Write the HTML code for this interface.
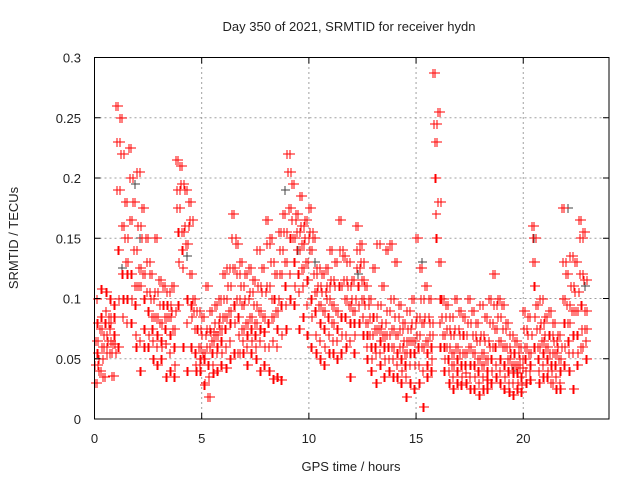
<!DOCTYPE html>
<html><head><meta charset="utf-8"><style>
body{margin:0;background:#fff;}
svg{display:block;font-family:"Liberation Sans",sans-serif;}
</style></head><body>
<svg id="chart" width="640" height="480">
<text x="349" y="31" font-size="13" text-anchor="middle" fill="#222">Day 350 of 2021, SRMTID for receiver hydn</text>
<text x="351" y="471" font-size="13" text-anchor="middle" fill="#222">GPS time / hours</text>
<text transform="translate(18,238) rotate(-90)" font-size="13" text-anchor="middle" fill="#222">SRMTID / TECUs</text>
<g id="grid"></g><g id="pts" shape-rendering="crispEdges"></g><g id="axes"></g>
</svg>
<script>
const xTicks=[0,5,10,15,20];
const yTicks=[0,0.05,0.1,0.15,0.2,0.25,0.3];
const yTickLabels=["0","0.05","0.1","0.15","0.2","0.25","0.3"];
const binHours=[0,0.2,0.4,0.6,0.8,1.0,1.2,1.4,1.6,1.8,2.0,2.2,2.4,2.6,2.8,3.0,3.2,3.4,3.6,3.8,4.0,4.2,4.4,4.6,4.8,5.0,5.2,5.4,5.6,5.8,6.0,6.2,6.4,6.6,6.8,7.0,7.2,7.4,7.6,7.8,8.0,8.2,8.4,8.6,8.8,9.0,9.2,9.4,9.6,9.8,10.0,10.2,10.4,10.6,10.8,11.0,11.2,11.4,11.6,11.8,12.0,12.2,12.4,12.6,12.8,13.0,13.2,13.4,13.6,13.8,14.0,14.2,14.4,14.6,14.8,15.0,15.2,15.4,15.6,15.8,16.0,16.2,16.4,16.6,16.8,17.0,17.2,17.4,17.6,17.8,18.0,18.2,18.4,18.6,18.8,19.0,19.2,19.4,19.6,19.8,20.0,20.2,20.4,20.6,20.8,21.0,21.2,21.4,21.6,21.8,22.0,22.2,22.4,22.6,22.8];
// SRMTID values in milli-TECU per bin
const srmtid=[
[30,45,65,80,100,55],[40,50,75,85,60,108],[35,60,70,80,90,105],[55,65,80,85,75,100],[36,55,62,70,85,95],
[260,230,190,140,100,60],[250,220,160,120,85,100],[180,150,130,100,80,120],[225,200,165,120,100,80],[180,140,110,95,70,60],
[205,160,125,110,65,40],[175,150,120,100,75,60],[150,130,105,90,70,60],[120,100,85,75,65,50],[150,105,85,70,60,45],
[115,95,80,65,60,50],[110,95,85,75,62,35],[105,95,85,70,55,40],[110,90,75,60,45,35],[215,190,175,155,130,95],
[210,195,155,140,125,60],[190,160,145,100,80,40],[180,165,120,95,85,60],[100,90,75,55,45,40],[90,75,60,50,45,40],
[85,70,55,50,30,28],[110,75,60,45,35,18],[90,72,65,55,45,38],[95,80,70,60,55,40],[100,85,75,65,55,45],
[120,100,85,75,60,42],[125,110,90,80,65,50],[170,150,125,95,80,55],[145,120,100,85,70,55],[130,110,95,75,65,55],
[120,100,80,70,60,45],[125,105,85,75,65,55],[115,95,80,70,60,50],[140,110,90,75,65,40],[125,105,85,72,60,45],
[165,145,110,80,60,40],[150,130,100,85,65,33],[120,100,90,75,60,35],[155,140,120,95,70,32],[170,155,130,110,95,75],
[220,205,175,150,120,100],[195,165,150,130,110,95],[170,155,140,120,105,75],[185,160,145,125,110,85],[165,150,130,115,95,70],
[175,155,140,100,85,60],[150,120,105,90,70,55],[125,110,95,80,65,50],[120,105,90,75,60,45],[125,110,100,85,70,55],
[140,115,95,80,65,55],[130,110,90,75,65,50],[165,140,110,85,70,55],[135,115,100,85,70,60],[130,110,95,80,65,35],
[115,100,90,80,70,55],[160,140,125,110,95,80],[145,130,115,100,85,70],[110,95,80,70,60,50],[100,85,70,60,50,40],
[125,85,75,60,55,30],[145,95,75,65,55,45],[110,80,70,60,50,35],[140,90,70,60,50,40],[145,100,75,60,50,35],
[130,85,70,55,45,35],[95,75,60,50,40,30],[80,65,55,45,35,18],[90,75,65,55,45,30],[100,80,65,55,45,25],
[150,85,70,60,45,30],[125,100,80,60,40,10],[110,85,65,55,45,35],[100,80,70,60,50,40],[287,245,230,200,170,150],
[255,180,130,100,80,60],[100,85,70,60,50,40],[95,75,60,50,40,30],[85,70,55,45,35,25],[100,75,60,50,40,30],
[90,70,55,45,35,28],[85,70,55,45,38,30],[100,80,60,45,35,25],[90,70,55,45,35,25],[80,65,50,40,30,20],
[95,70,55,45,35,25],[85,65,50,40,32,25],[100,80,60,50,40,30],[120,95,75,60,45,35],[100,85,65,50,40,30],
[95,75,60,45,35,25],[80,60,50,40,30,22],[70,55,45,38,30,20],[65,55,45,38,30,25],[60,50,42,35,28,22],
[90,75,60,50,40,30],[85,70,55,45,40,32],[160,150,130,110,85,60],[95,75,60,50,40,30],[100,80,65,55,45,35],
[85,70,60,50,40,35],[90,70,55,45,40,30],[80,65,55,45,35,25],[70,60,50,40,30,25],[175,130,100,80,60,45],
[120,95,80,65,55,40],[135,110,90,70,55,25],[130,105,90,70,55,45],[165,150,120,95,75,60],[155,115,90,75,65,50]
];
const greyHours=[0.3,0.7,1.3,1.9,2.1,4.3,8.9,9.5,10.3,12.3,15.3,19.5,20.5,22.1,22.9];
const greyValues=[40,75,125,195,150,135,190,140,130,120,130,40,150,175,110];

const X0=94.5,X1=609,Y0=419,Y1=57.5;
const xs=h=>X0+(h/24)*(X1-X0);
const ys=v=>Y0-(v/0.3)*(Y0-Y1);
const NS="http://www.w3.org/2000/svg";
function mk(tag,attrs,parent){const e=document.createElementNS(NS,tag);for(const k in attrs)e.setAttribute(k,attrs[k]);parent.appendChild(e);return e;}
const grid=document.getElementById('grid'),pts=document.getElementById('pts'),axes=document.getElementById('axes');
xTicks.forEach((t,i)=>{
  const x=xs(t);
  if(t>0){const g=mk('line',{x1:x,x2:x,y1:Y0,y2:Y1,stroke:'#a0a0a0','stroke-dasharray':'2,3'},grid);
  
  }
  const a=mk('line',{x1:x,x2:x,y1:Y0,y2:Y0-6,stroke:'#000'},axes);
  
  
  const b=mk('line',{x1:x,x2:x,y1:Y1,y2:Y1+6,stroke:'#000'},axes);
  
  
  const l=mk('text',{x:x,y:443,'font-size':13,'text-anchor':'middle',fill:'#222'},axes);l.textContent=String(t);
  
  
});
yTicks.forEach((t,i)=>{
  const y=ys(t);
  if(t>0&&t<0.3){const g=mk('line',{x1:X0,x2:X1,y1:y,y2:y,stroke:'#a0a0a0','stroke-dasharray':'2,3'},grid);
  
  }
  const a=mk('line',{x1:X0,x2:X0+6,y1:y,y2:y,stroke:'#000'},axes);
  
  
  const b=mk('line',{x1:X1,x2:X1-6,y1:y,y2:y,stroke:'#000'},axes);
  
  
  const l=mk('text',{x:81,y:y+5,'font-size':13,'text-anchor':'end',fill:'#222'},axes);l.textContent=yTickLabels[i];
  
  
});
const frame=mk('rect',{x:X0,y:Y1,width:X1-X0,height:Y0-Y1,fill:'none',stroke:'#000'},axes);


function plus(h,v,col,name){
  const x=Math.round(xs(h)),y=Math.round(ys(v));
  const p=mk('path',{d:`M${x-4},${y}H${x+5}M${x},${y-4}V${y+5}`,stroke:col,'stroke-width':1.2,fill:'none'},pts);
  
  
}
greyHours.forEach((h,i)=>plus(h,greyValues[i]/1000,'#404040','grey-point'));
binHours.forEach((h,i)=>{
  srmtid[i].forEach((v,k)=>{
    plus(h+k*0.033,v/1000,'#ff0000','srmtid-point');
    plus(h+0.1+((k*5)%6)*0.017,v/1000,'#ff0000','srmtid-point');
  });
});
</script>
</body></html>
